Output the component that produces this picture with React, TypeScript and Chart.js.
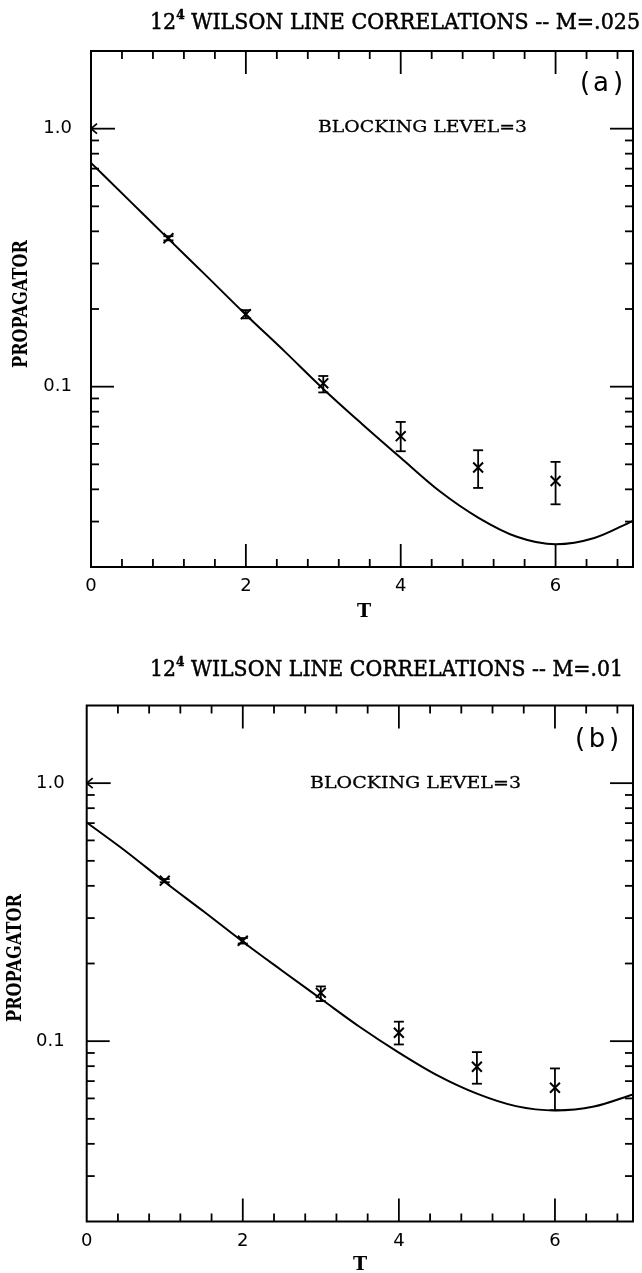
import React, { useEffect, useRef } from "react";
import { Chart, registerables } from "chart.js";

Chart.register(...registerables);

// Euclidean time separations of the measured correlators
const T_VALUES = [1, 2, 3, 4, 5, 6];

// Panel (a): M = .025
const PROP_A = [0.376, 0.191, 0.103, 0.0643, 0.0486, 0.0431];
const PROP_A_LO = [0.369, 0.184, 0.095, 0.0562, 0.0405, 0.035];
const PROP_A_HI = [0.383, 0.198, 0.11, 0.073, 0.0567, 0.0511];

// Panel (b): M = .01
const PROP_B = [0.419, 0.245, 0.154, 0.1078, 0.0796, 0.066];
const PROP_B_LO = [0.413, 0.239, 0.143, 0.0971, 0.0684, 0.054];
const PROP_B_HI = [0.425, 0.251, 0.163, 0.119, 0.0907, 0.0784];

// Fitted propagator curves sampled along T
const FIT_T = [0, 0.5, 1, 1.5, 2, 2.5, 3, 3.5, 4, 4.5, 5, 5.5, 6, 6.5, 7];
const FIT_A = [0.737, 0.525, 0.374, 0.267, 0.19, 0.137, 0.098, 0.0717, 0.053, 0.0394, 0.0311, 0.0262, 0.0245, 0.0259, 0.0302];
const FIT_B = [0.704, 0.545, 0.414, 0.318, 0.243, 0.188, 0.146, 0.1135, 0.0903, 0.0735, 0.0626, 0.056, 0.0539, 0.0558, 0.0622];

// Axes
const T_RANGE = [0, 7];
const Y_RANGE = [0.02, 2];
const X_TICKS = [0, 2, 4, 6];
const X_TICK_LABELS = ["0", "2", "4", "6"];
const Y_TICKS = [0.1, 1];
const Y_TICK_LABELS = ["0.1", "1.0"];
const X_MINOR_STEP = 0.4;

type Panel = {
  mass: string;
  letter: string;
  values: number[];
  lo: number[];
  hi: number[];
  fit: number[];
  height: number;
  left: number;
  right: number;
  top: number;
  bottom: number;
  titleBase: number;
  titleLeft: number;
  titleRight: number;
  letterX: number[];
  letterY: number;
  blockLeft: number;
  blockRight: number;
  blockBase: number;
  propX: number;
  propY: number;
  tX: number;
  tBase: number;
  yPad: number;
};

const PANELS: Panel[] = [
  {
    mass: ".025", letter: "a", values: PROP_A, lo: PROP_A_LO, hi: PROP_A_HI, fit: FIT_A,
    height: 636, left: 91, right: 639, top: 51, bottom: 567,
    titleBase: 29, titleLeft: 150, titleRight: 640,
    letterX: [585, 601, 618], letterY: 84,
    blockLeft: 318, blockRight: 527, blockBase: 132,
    propX: 22, propY: 304, tX: 364, tBase: 617, yPad: 19,
  },
  {
    mass: ".01", letter: "b", values: PROP_B, lo: PROP_B_LO, hi: PROP_B_HI, fit: FIT_B,
    height: 637, left: 86.7, right: 634.5, top: 69.5, bottom: 585.5,
    titleBase: 40, titleLeft: 150, titleRight: 623,
    letterX: [580, 597, 614], letterY: 104,
    blockLeft: 310, blockRight: 521, blockBase: 152,
    propX: 16, propY: 322, tX: 360, tBase: 634, yPad: 22,
  },
];

// Draws a run of text pieces squeezed/stretched to span [x0, x1]
function drawFitted(
  ctx: CanvasRenderingContext2D,
  parts: { text: string; font: string; dy: number }[],
  x0: number,
  x1: number,
  base: number,
  weight: number
) {
  let w = 0;
  for (const p of parts) {
    ctx.font = p.font;
    w += ctx.measureText(p.text).width;
  }
  const sx = (x1 - x0) / w;
  ctx.save();
  ctx.translate(x0, base);
  ctx.scale(sx, 1);
  ctx.textAlign = "left";
  ctx.textBaseline = "alphabetic";
  ctx.lineWidth = weight;
  ctx.lineJoin = "round";
  let cx = 0;
  for (const p of parts) {
    ctx.font = p.font;
    ctx.fillText(p.text, cx, p.dy);
    if (weight > 0) ctx.strokeText(p.text, cx, p.dy);
    cx += ctx.measureText(p.text).width;
  }
  ctx.restore();
}

function framePlugin(p: Panel) {
  return {
    id: "frame-" + p.letter,
    afterDraw(chart: any) {
      const ctx: CanvasRenderingContext2D = chart.ctx;
      const { left, right, top, bottom } = chart.chartArea;
      const xs = chart.scales.x;
      const ys = chart.scales.y;
      ctx.save();
      ctx.strokeStyle = "#000";
      ctx.fillStyle = "#000";
      ctx.lineCap = "butt";

      // frame
      ctx.lineWidth = 2;
      ctx.strokeRect(left, top, right - left, bottom - top);

      // inward ticks on all four sides
      ctx.lineWidth = 1.8;
      const MINOR = 8;
      const MAJOR = 23;
      const line = (x1: number, y1: number, x2: number, y2: number) => {
        ctx.beginPath();
        ctx.moveTo(x1, y1);
        ctx.lineTo(x2, y2);
        ctx.stroke();
      };
      for (let k = 1; k * X_MINOR_STEP < T_RANGE[1] - 1e-6; k++) {
        const v = k * X_MINOR_STEP;
        const isMajor = X_TICKS.some((m) => Math.abs(m - v) < 1e-6);
        const px = xs.getPixelForValue(v);
        const len = isMajor ? MAJOR : MINOR;
        line(px, bottom, px, bottom - len);
        line(px, top, px, top + len);
      }
      for (let d = 0.01; d < Y_RANGE[1] * 1.01; d *= 10) {
        for (let m = 1; m <= 9; m++) {
          const v = m * d;
          if (v <= Y_RANGE[0] * 1.001 || v >= Y_RANGE[1] * 0.999) continue;
          const py = ys.getPixelForValue(v);
          const isMajor = Y_TICKS.some((t) => Math.abs(t - v) / t < 1e-6);
          const len = isMajor ? MAJOR : MINOR;
          line(right, py, right - len, py);
          if (isMajor && Math.abs(v - 1) < 1e-6) {
            // arrow marking the unit normalisation
            line(left, py, left + 24, py);
            line(left, py, left + 6, py - 5);
            line(left, py, left + 6, py + 5);
          } else {
            line(left, py, left + len, py);
          }
        }
      }

      // error bars
      ctx.lineWidth = 1.8;
      T_VALUES.forEach((t, i) => {
        const px = xs.getPixelForValue(t);
        const yl = ys.getPixelForValue(p.lo[i]);
        const yh = ys.getPixelForValue(p.hi[i]);
        line(px, yl, px, yh);
        line(px - 5, yl, px + 5, yl);
        line(px - 5, yh, px + 5, yh);
      });

      // title with superscript
      const tf = "22px 'DejaVu Serif'";
      drawFitted(
        ctx,
        [
          { text: "12", font: tf, dy: 0 },
          { text: "4", font: "bold 13px 'DejaVu Serif'", dy: -10 },
          { text: " WILSON LINE CORRELATIONS -- M=" + p.mass, font: tf, dy: 0 },
        ],
        p.titleLeft,
        p.titleRight,
        p.titleBase,
        0.5
      );

      // annotation
      drawFitted(
        ctx,
        [{ text: "BLOCKING LEVEL=3", font: "17px 'DejaVu Serif'", dy: 0 }],
        p.blockLeft,
        p.blockRight,
        p.blockBase,
        0.3
      );

      // panel letter
      ctx.font = "26px 'DejaVu Sans'";
      ctx.textAlign = "center";
      ctx.textBaseline = "middle";
      ["(", p.letter, ")"].forEach((c, i) => ctx.fillText(c, p.letterX[i], p.letterY));

      // axis titles
      ctx.font = "bold 19px 'DejaVu Serif'";
      ctx.textAlign = "center";
      ctx.textBaseline = "alphabetic";
      ctx.fillText("T", p.tX, p.tBase);

      ctx.save();
      ctx.translate(p.propX, p.propY);
      ctx.rotate(-Math.PI / 2);
      ctx.font = "bold 20px 'DejaVu Serif'";
      const w = ctx.measureText("PROPAGATOR").width;
      ctx.scale(128 / w, 1);
      ctx.textAlign = "center";
      ctx.textBaseline = "middle";
      ctx.fillText("PROPAGATOR", 0, 0);
      ctx.restore();

      ctx.restore();
    },
  };
}

function makeConfig(p: Panel): any {
  return {
    type: "scatter",
    data: {
      datasets: [
        {
          data: FIT_T.map((t, i) => ({ x: t, y: p.fit[i] })),
          showLine: true,
          borderColor: "#000",
          borderWidth: 2,
          pointRadius: 0,
          cubicInterpolationMode: "monotone",
          fill: false,
        },
        {
          data: T_VALUES.map((t, i) => ({ x: t, y: p.values[i] })),
          showLine: false,
          pointStyle: "crossRot",
          pointRadius: 7,
          pointBorderWidth: 2,
          borderColor: "#000",
          backgroundColor: "#000",
        },
      ],
    },
    options: {
      responsive: false,
      animation: false,
      events: [],
      layout: { padding: { left: 0, top: p.top, right: 642 - p.right, bottom: 0 } },
      plugins: { legend: { display: false }, tooltip: { enabled: false }, title: { display: false } },
      scales: {
        x: {
          type: "linear",
          min: T_RANGE[0],
          max: T_RANGE[1],
          grid: { display: false, drawTicks: false },
          border: { display: false },
          afterBuildTicks: (s: any) => {
            s.ticks = X_TICKS.map((v) => ({ value: v }));
          },
          afterFit: (s: any) => {
            s.height = p.height - p.bottom;
          },
          ticks: {
            callback: (_v: any, i: number) => X_TICK_LABELS[i],
            font: { family: "'DejaVu Sans'", size: 18 },
            color: "#000",
            padding: 9,
            maxRotation: 0,
            autoSkip: false,
          },
        },
        y: {
          type: "logarithmic",
          min: Y_RANGE[0],
          max: Y_RANGE[1],
          grid: { display: false, drawTicks: false },
          border: { display: false },
          afterBuildTicks: (s: any) => {
            s.ticks = Y_TICKS.map((v) => ({ value: v }));
          },
          afterFit: (s: any) => {
            s.width = p.left;
          },
          ticks: {
            callback: (_v: any, i: number) => Y_TICK_LABELS[i],
            font: { family: "'DejaVu Sans'", size: 18 },
            color: "#000",
            padding: p.yPad,
            autoSkip: false,
          },
        },
      },
    },
    plugins: [framePlugin(p)],
  };
}

export default function App() {
  const refA = useRef<HTMLCanvasElement>(null);
  const refB = useRef<HTMLCanvasElement>(null);

  useEffect(() => {
    const charts = [refA.current, refB.current].map(
      (c, i) => new Chart(c as HTMLCanvasElement, makeConfig(PANELS[i]))
    );
    return () => charts.forEach((c) => c.destroy());
  }, []);

  return (
    <div style={{ position: "absolute", left: 0, top: 0, width: 642, height: 1273, background: "#fff" }}>
      <canvas ref={refA} width={642} height={636} style={{ display: "block" }} />
      <canvas ref={refB} width={642} height={637} style={{ display: "block" }} />
    </div>
  );
}
